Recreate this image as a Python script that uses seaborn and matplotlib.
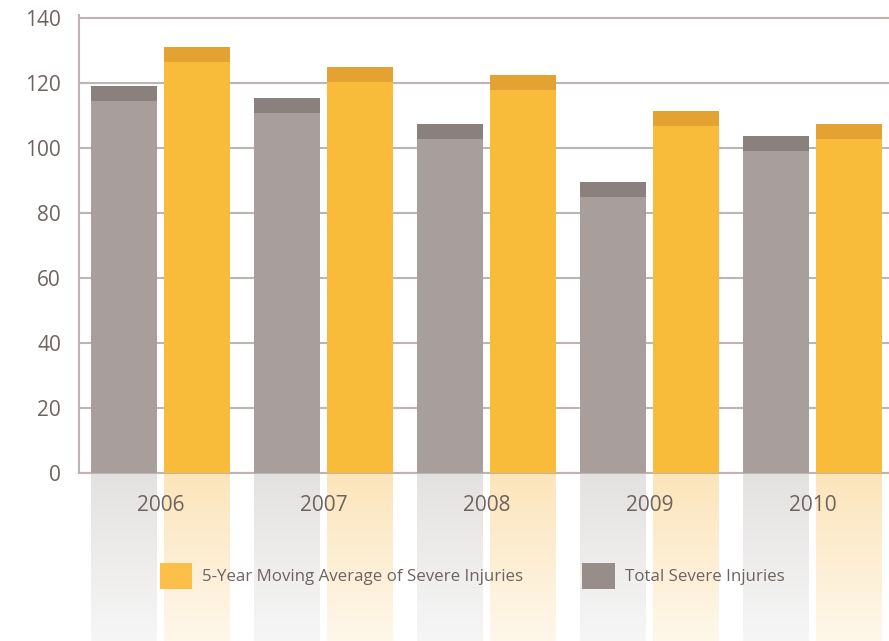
import numpy as np
import pandas as pd
import matplotlib
matplotlib.use("Agg")
import matplotlib.pyplot as plt
from matplotlib.patches import Rectangle, Patch
import seaborn as sns

years = ["2006", "2007", "2008", "2009", "2010"]
total_injuries = [114.5, 110.8, 102.8, 84.9, 99.1]
moving_avg = [126.5, 120.4, 117.9, 106.8, 102.8]
series_names = ["Total Severe Injuries", "5-Year Moving Average of Severe Injuries"]
yticks = [0, 20, 40, 60, 80, 100, 120, 140]

df = pd.DataFrame({
    "year": years * 2,
    "value": total_injuries + moving_avg,
    "series": [series_names[0]] * len(years) + [series_names[1]] * len(years),
})

gray, yellow = "#a89f9c", "#f9bb3a"
cap_colors = {gray: "#8a817e", yellow: "#e4a233"}
text_col = "#6e635f"
grid_col = "#bdb5b2"

sns.set_style("white")
plt.rcParams["font.family"] = ["Open Sans", "DejaVu Sans"]

fig = plt.figure(figsize=(8.89, 6.41), dpi=100)

# reflection underneath
rax = fig.add_axes([79 / 889, 0, 810 / 889, 168 / 641])
sns.barplot(data=df, x="year", y="value", hue="series", hue_order=series_names,
            palette=["#e4e2e1", "#fce5bb"], width=0.9, gap=0.1, saturation=1,
            legend=False, linewidth=0, ax=rax)
rax.set_xlim(-0.5, 4.47)
rax.set_ylim(51.7, 0)
rax.axis("off")
grad = np.zeros((100, 2, 4))
grad[..., :3] = 1
grad[..., 3] = np.linspace(0.0, 0.7, 100)[:, None]
rax.imshow(grad, extent=[0, 1, 0, 1], transform=rax.transAxes, aspect="auto",
           origin="upper", zorder=5)

# main chart
ax = fig.add_axes([79 / 889, 168 / 641, 810 / 889, 458 / 641])
ax.patch.set_visible(False)
sns.barplot(data=df, x="year", y="value", hue="series", hue_order=series_names,
            palette=[gray, yellow], width=0.9, gap=0.1, saturation=1,
            legend=False, linewidth=0, ax=ax, zorder=3)
cap = 4.6
for p in list(ax.patches):
    fc = matplotlib.colors.to_hex(p.get_facecolor())
    ax.add_patch(Rectangle((p.get_x(), p.get_height()), p.get_width(), cap,
                           facecolor=cap_colors.get(fc, fc), edgecolor="none",
                           linewidth=0, zorder=3))
ax.set_xlim(-0.5, 4.47)
ax.set_ylim(0, 140.9)
ax.set_yticks(yticks)
ax.yaxis.grid(True, color=grid_col, lw=1.5, zorder=0)
ax.set_axisbelow(True)
for s in ["top", "right"]:
    ax.spines[s].set_visible(False)
for s in ["left", "bottom"]:
    ax.spines[s].set_color(grid_col)
    ax.spines[s].set_linewidth(1.5)
ax.tick_params(axis="y", length=0, pad=13, labelsize=15, labelcolor=text_col)
ax.tick_params(axis="x", length=0, pad=16, labelsize=15, labelcolor=text_col)
ax.set_xlabel("")
ax.set_ylabel("")

handles = [Patch(facecolor="#fcbf4a", edgecolor="none"),
           Patch(facecolor="#978d89", edgecolor="none")]
fig.legend(handles, [series_names[1], series_names[0]], ncol=2, frameon=False,
           loc="center", bbox_to_anchor=(472 / 889, 1 - 576 / 641),
           fontsize=12.2, labelcolor=text_col, handlelength=1.9, handleheight=1.9,
           handletextpad=0.6, columnspacing=3.5)

fig.savefig("out.png", dpi=100)
